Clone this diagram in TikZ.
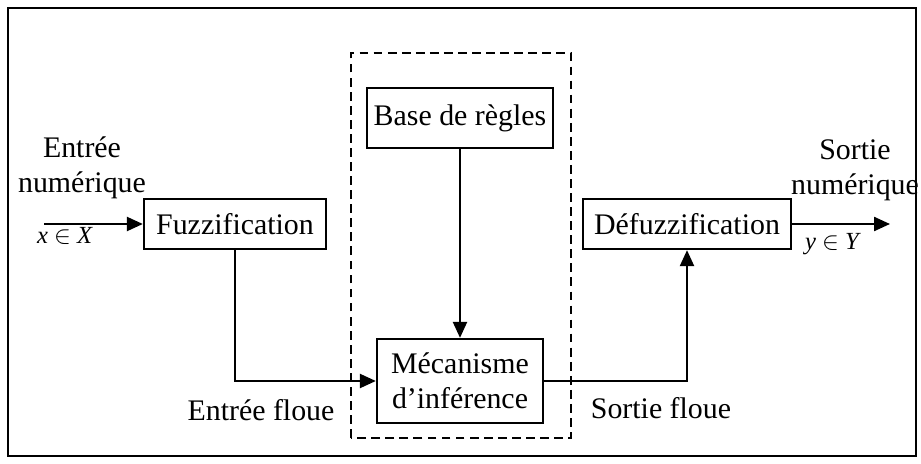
\documentclass[tikz,border=0pt]{standalone}
\usepackage{fontspec}
\setmainfont{Liberation Serif}
\usetikzlibrary{arrows.meta}
\tikzstyle{block} = [draw, line width=1.3pt, fill=white, inner sep=2pt]
\tikzstyle{flow} = [->, line width=1.3pt]
\tikzstyle{var} = [font=\fontsize{14}{16}\selectfont]

\begin{document}
\begin{tikzpicture}[>={Triangle[length=0.32cm, width=0.28cm]}, font=\fontsize{17}{20}\selectfont]
      \useasboundingbox (0, 0) rectangle (18.42, 9.26);
      \draw[line width=1.6pt] (0.16, 0.14) rectangle (18.32, 9.10);
      \draw[line width=1.1pt, dash pattern=on 5pt off 3pt] (7.02, 0.50) rectangle (11.42, 8.20);

      \node[block, minimum width=3.72cm, minimum height=1.2cm] (rules) at (9.2, 6.9) {Base de règles};
      \node[block, minimum width=3.64cm, minimum height=1.0cm] (fuzz) at (4.7, 4.78) {Fuzzification};
      \node[block, minimum width=4.16cm, minimum height=1.0cm] (defuzz) at (13.74, 4.78) {Défuzzification};
      \node[block, minimum width=3.32cm, minimum height=1.68cm, align=center] (infer) at (9.2, 1.64) {Mécanisme\\d’inférence};

      \coordinate (in) at (0.88, 4.78);
      \coordinate (out) at (17.8, 4.78);
      \node[align=center] (innum) at (1.64, 5.91) {Entrée\\numérique};
      \node[var] (xin) at (1.30, 4.54) {\textit{x} $\in$ \textit{X}};
      \node[align=center] (outnum) at (17.10, 5.86) {Sortie\\numérique};
      \node[var] (yout) at (16.66, 4.38) {\textit{y} $\in$ \textit{Y}};
      \node (infuzzy) at (5.22, 1.06) {Entrée floue};
      \node (outfuzzy) at (13.22, 1.10) {Sortie floue};

      \draw[flow] (in) -- (fuzz);
      \draw[flow] (defuzz) -- (out);
      \draw[flow] (rules) -- (infer);
      \draw[flow] (fuzz) |- (infer);
      \draw[flow] (infer) -| (defuzz);
\end{tikzpicture}
\end{document}
